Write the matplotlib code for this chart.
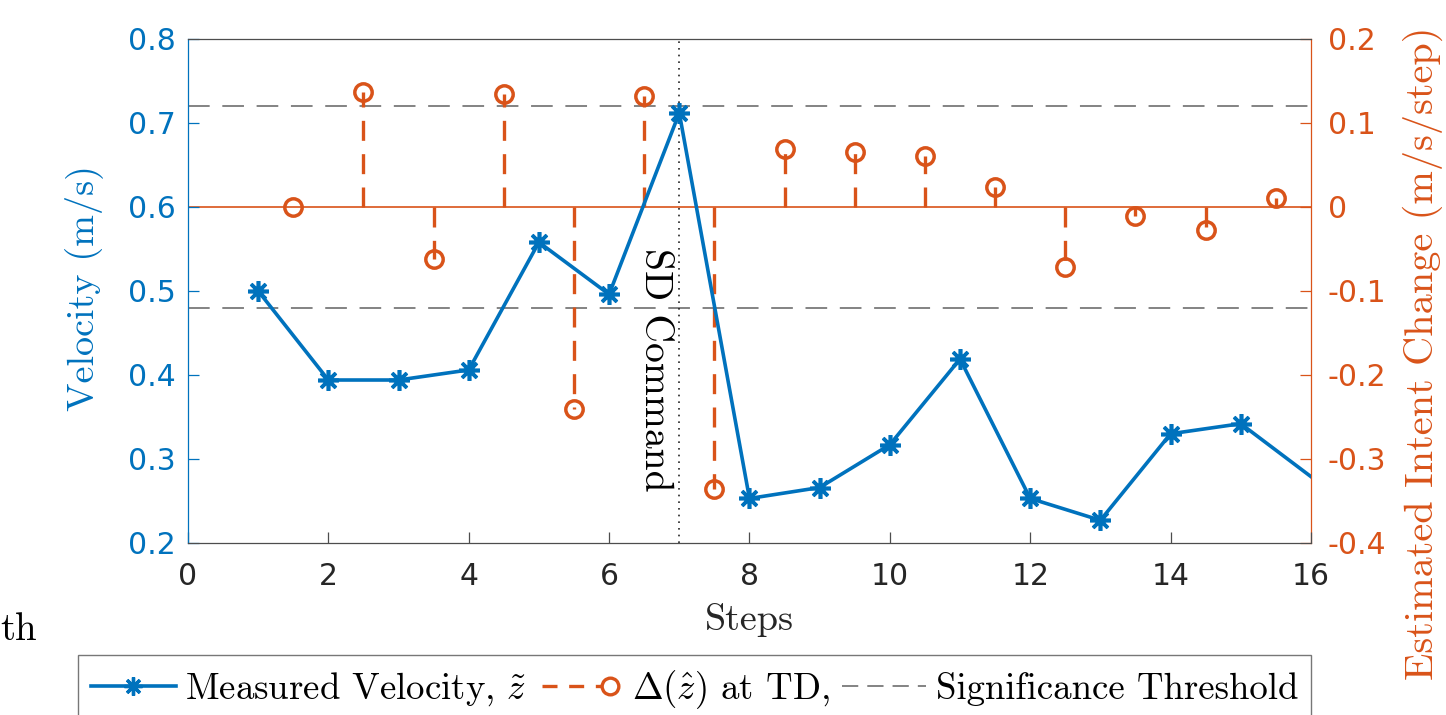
import numpy as np
import matplotlib
matplotlib.use("Agg")
import matplotlib.pyplot as plt
from matplotlib.lines import Line2D
from matplotlib.legend_handler import HandlerBase
from matplotlib.ticker import FuncFormatter

plt.rcParams['mathtext.fontset'] = 'cm'
plt.rcParams['axes.unicode_minus'] = False

# ── data ─────────────────────────────────────────────────────────────────
steps = [1, 2, 3, 4, 5, 6, 7, 8, 9, 10, 11, 12, 13, 14, 15, 16]
velocity = [0.500, 0.394, 0.394, 0.406, 0.558, 0.496, 0.712, 0.253,
            0.266, 0.317, 0.419, 0.253, 0.227, 0.330, 0.342, 0.279]

td_steps = [1.5, 2.5, 3.5, 4.5, 5.5, 6.5, 7.5, 8.5, 9.5, 10.5, 11.5,
            12.5, 13.5, 14.5, 15.5]
intent_change = [0.000, 0.137, -0.062, 0.134, -0.241, 0.132, -0.336,
                 0.069, 0.065, 0.061, 0.024, -0.071, -0.011, -0.027, 0.011]

threshold = 0.12
sd_step = 7

x_ticks = [0, 2, 4, 6, 8, 10, 12, 14, 16]
vel_ticks = [0.2, 0.3, 0.4, 0.5, 0.6, 0.7, 0.8]
chg_ticks = [-0.4, -0.3, -0.2, -0.1, 0.0, 0.1, 0.2]

labels = ['Measured Velocity, $\\tilde{z}$',
          '$\\Delta(\\hat{z})$ at TD,',
          'Significance Threshold']

BLUE = '#0072BD'
ORANGE = '#D95319'
DARK = '#262626'
GRAY = '#7a7a7a'
SERIF = 'cmr10'
ASTER = (8, 2, 0)


# ── legend icon for the stem series: dashed line with circle at the end ─
class StemIcon(HandlerBase):
    def create_artists(self, legend, orig_handle, xdescent, ydescent,
                       width, height, fontsize, trans):
        y = height / 2 - ydescent
        x0 = -xdescent + 0.05 * width
        x1 = width - xdescent - 0.15 * width
        ln = Line2D([x0, x1], [y, y], color=ORANGE, lw=2.4,
                    linestyle=(0, (4.5, 3.5)), transform=trans)
        mk = Line2D([x1], [y], color=ORANGE, marker='o', ms=12, mew=2.4,
                    mfc='white', linestyle='none', transform=trans)
        return [ln, mk]


fig = plt.figure(figsize=(14.46, 7.15), dpi=100)
ax = fig.add_axes([0.130, 0.2406, 0.7766, 0.7049])
ax2 = ax.twinx()

# right axis: intent change stems + thresholds
ax2.axhline(0, color=ORANGE, lw=1.2, zorder=1)
for s in (threshold, -threshold):
    ax2.axhline(s, color=GRAY, lw=1.3, linestyle=(0, (12, 7)), zorder=1)
ax2.vlines(td_steps, 0, intent_change, colors=ORANGE, lw=2.4,
           linestyles=(0, (6, 4)), zorder=2)
ax2.plot(td_steps, intent_change, linestyle='none', marker='o', ms=12.5,
         mew=2.5, mfc='none', color=ORANGE, zorder=3)
ax2.set_ylim(-0.4, 0.2)
ax2.set_yticks(chg_ticks)
ax2.yaxis.set_major_formatter(FuncFormatter(lambda v, p: f'{round(v, 2):g}'))

# left axis: velocity
ax.plot(steps, velocity, color=BLUE, lw=2.6, marker=ASTER, ms=15, mew=2.6,
        markevery=slice(0, len(steps) - 1), zorder=4)
ax.axvline(sd_step, color=DARK, lw=1.2, linestyle=(0, (1, 3)), zorder=2)
ax.text(6.65, 0.551, 'SD Command', rotation=270, ha='center', va='top',
        fontsize=28.5, family=SERIF, color='black')
ax.set_xlim(0, 16)
ax.set_ylim(0.2, 0.8)
ax.set_xticks(x_ticks)
ax.set_yticks(vel_ticks)
ax.xaxis.set_major_formatter(FuncFormatter(lambda v, p: f'{v:g}'))
ax.yaxis.set_major_formatter(FuncFormatter(lambda v, p: f'{v:.1f}'))

ax.set_zorder(ax2.get_zorder() + 1)
ax.patch.set_visible(False)

# spines / ticks
ax.spines['left'].set_color(BLUE)
ax.spines['right'].set_visible(False)
for k in ('top', 'bottom'):
    ax.spines[k].set_color('#4d4d4d')
for sp in ax.spines.values():
    sp.set_linewidth(0.9)
for k in ('left', 'top', 'bottom'):
    ax2.spines[k].set_visible(False)
ax2.spines['right'].set_color(ORANGE)
ax2.spines['right'].set_linewidth(0.9)

ax.tick_params(axis='x', direction='in', length=8, width=0.9, colors='#4d4d4d',
               labelcolor=DARK, labelsize=21.5, pad=14)
ax.tick_params(axis='y', direction='in', length=8, width=0.9, colors=BLUE,
               labelsize=21.5, pad=9)
ax2.tick_params(axis='y', direction='in', length=8, width=0.9, colors=ORANGE,
                labelsize=21.5, pad=12)

ax.set_xlabel('Steps', fontsize=27.5, family=SERIF, color=DARK, labelpad=8)
ax.set_ylabel('Velocity (m/s)', fontsize=27.5, family=SERIF, color=BLUE)
ax.yaxis.set_label_coords(-0.076, 0.506)
ax2.set_ylabel('Estimated Intent Change (m/s/step)', fontsize=29,
               family=SERIF, color=ORANGE)
ax2.yaxis.set_label_coords(1.082, 0.377)

# stray text fragment at left edge
fig.text(0.0, 1 - 640 / 715, 'th', fontsize=28, family=SERIF,
         va='baseline', ha='left')

# legend
h1 = Line2D([], [], color=BLUE, lw=2.6, marker=ASTER, ms=13, mew=2.4)
h2 = Line2D([], [], color=ORANGE)
h3 = Line2D([], [], color=GRAY, lw=1.3, linestyle=(0, (9, 5)))
top = 1 - 655 / 715
leg = fig.legend([h1, h2, h3], labels, loc='upper left',
                 bbox_to_anchor=(78 / 1446, top - 0.2, 1233 / 1446, 0.2),
                 mode='expand', ncol=3,
                 handler_map={h2: StemIcon()}, frameon=True, fancybox=False,
                 prop={'family': SERIF, 'size': 26.5}, handlelength=2.3,
                 handletextpad=0.25, columnspacing=0.3, borderpad=0.35,
                 borderaxespad=0)
leg.get_frame().set_edgecolor('#555555')
leg.get_frame().set_linewidth(1.0)

fig.savefig('out.png', dpi=100)
